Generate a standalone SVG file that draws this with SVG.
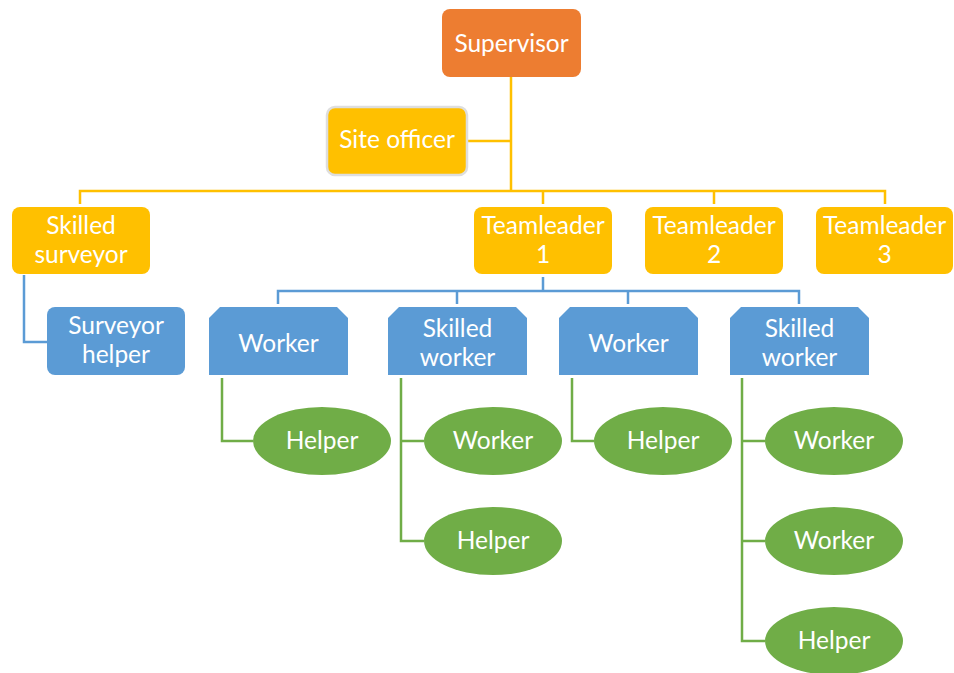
<svg xmlns="http://www.w3.org/2000/svg" width="954" height="673" viewBox="0 0 954 673">
  <defs>
    <style>
      .lbl { font-family: Lato, "Open Sans", "Liberation Sans", sans-serif; font-size: 24.5px; fill: #ffffff; text-anchor: middle; }
      .orange { fill: #ED7D31; }
      .yellow { fill: #FFC000; }
      .blue { fill: #5B9BD5; }
      .green { fill: #70AD47; }
      .ln { fill: none; stroke-width: 2.5; }
      .ln-y { stroke: #FFC000; }
      .ln-b { stroke: #5B9BD5; }
      .ln-g { stroke: #70AD47; }
    </style>
    <!-- box with top corners cut off, 139 x 68 -->
    <path id="snip" d="M11,0 H128 L139,11 V68 H0 V11 Z"/>
  </defs>
  <rect width="954" height="673" fill="#ffffff"/>

  <g id="connectors">
    <!-- top level -->
    <path class="ln ln-y" d="M511,77 V191 M467,141 H511 M80,204 V191 H885 V204 M543,191 V204 M714,191 V204"/>
    <!-- surveyor branch -->
    <path class="ln ln-b" d="M24,275 V342 H47"/>
    <!-- teamleader 1 branch -->
    <path class="ln ln-b" d="M543,277 V291 M278,304 V291 H799 V304 M457,291 V304 M628,291 V304"/>
    <!-- helpers -->
    <path class="ln ln-g" d="M222,378 V441 H253"/>
    <path class="ln ln-g" d="M401,378 V541 H424 M401,441 H424"/>
    <path class="ln ln-g" d="M572,378 V441 H594"/>
    <path class="ln ln-g" d="M742,378 V641 H765 M742,441 H765 M742,541 H765"/>
  </g>

  <g id="supervisor">
    <rect class="orange" x="442" y="9" width="139" height="68" rx="8"/>
    <text class="lbl" x="511.5" y="52">Supervisor</text>
  </g>
  <g id="site-officer">
    <rect class="yellow" x="327" y="107" width="140" height="68" rx="8" stroke="#DEDEDE" stroke-width="2.5"/>
    <text class="lbl" x="397" y="148">Site officer</text>
  </g>
  <g id="skilled-surveyor">
    <rect class="yellow" x="12" y="207" width="138" height="67" rx="8"/>
    <text class="lbl" x="81" y="234">Skilled</text>
    <text class="lbl" x="81" y="263">surveyor</text>
  </g>
  <g id="teamleader-1">
    <rect class="yellow" x="474" y="207" width="138" height="67" rx="8"/>
    <text class="lbl" x="543" y="234">Teamleader</text>
    <text class="lbl" x="543" y="263">1</text>
  </g>
  <g id="teamleader-2">
    <rect class="yellow" x="645" y="207" width="138" height="67" rx="8"/>
    <text class="lbl" x="714" y="234">Teamleader</text>
    <text class="lbl" x="714" y="263">2</text>
  </g>
  <g id="teamleader-3">
    <rect class="yellow" x="816" y="207" width="137" height="67" rx="8"/>
    <text class="lbl" x="884.5" y="234">Teamleader</text>
    <text class="lbl" x="884.5" y="263">3</text>
  </g>

  <g id="surveyor-helper">
    <rect class="blue" x="47" y="307" width="138" height="68" rx="8"/>
    <text class="lbl" x="116" y="334">Surveyor</text>
    <text class="lbl" x="116" y="363">helper</text>
  </g>
  <g id="worker-1">
    <use href="#snip" class="blue" x="209" y="307"/>
    <text class="lbl" x="278.5" y="352">Worker</text>
  </g>
  <g id="skilled-worker-1">
    <use href="#snip" class="blue" x="388" y="307"/>
    <text class="lbl" x="457.5" y="337">Skilled</text>
    <text class="lbl" x="457.5" y="366">worker</text>
  </g>
  <g id="worker-2">
    <use href="#snip" class="blue" x="559" y="307"/>
    <text class="lbl" x="628.5" y="352">Worker</text>
  </g>
  <g id="skilled-worker-2">
    <use href="#snip" class="blue" x="730" y="307"/>
    <text class="lbl" x="799.5" y="337">Skilled</text>
    <text class="lbl" x="799.5" y="366">worker</text>
  </g>

  <g id="helper-w1">
    <ellipse class="green" cx="322" cy="441" rx="69" ry="34"/>
    <text class="lbl" x="322" y="449">Helper</text>
  </g>
  <g id="worker-sw1">
    <ellipse class="green" cx="493" cy="441" rx="69" ry="34"/>
    <text class="lbl" x="493" y="449">Worker</text>
  </g>
  <g id="helper-sw1">
    <ellipse class="green" cx="493" cy="541" rx="69" ry="34"/>
    <text class="lbl" x="493" y="549">Helper</text>
  </g>
  <g id="helper-w2">
    <ellipse class="green" cx="663" cy="441" rx="69" ry="34"/>
    <text class="lbl" x="663" y="449">Helper</text>
  </g>
  <g id="worker-sw2-a">
    <ellipse class="green" cx="834" cy="441" rx="69" ry="34"/>
    <text class="lbl" x="834" y="449">Worker</text>
  </g>
  <g id="worker-sw2-b">
    <ellipse class="green" cx="834" cy="541" rx="69" ry="34"/>
    <text class="lbl" x="834" y="549">Worker</text>
  </g>
  <g id="helper-sw2">
    <ellipse class="green" cx="834" cy="641" rx="69" ry="34"/>
    <text class="lbl" x="834" y="649">Helper</text>
  </g>
</svg>
